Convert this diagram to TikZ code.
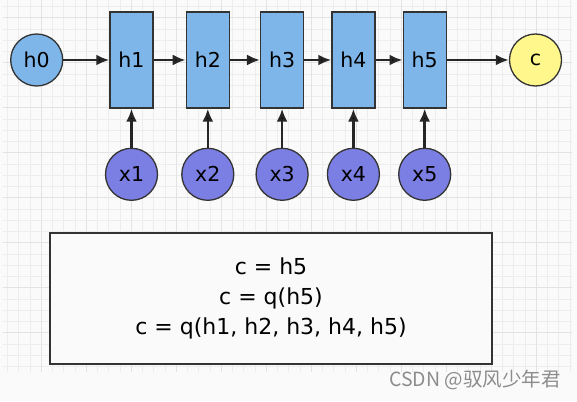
\documentclass[tikz,border=0pt]{standalone}
\usepackage{fontspec}
\setmainfont{DejaVu Sans}
\newfontfamily\cjk{Noto Sans CJK SC}
\usepackage{xcolor}
\usepackage{tikz}
\usetikzlibrary{positioning, arrows.meta, shapes.geometric}

\definecolor{cellblue}{RGB}{126,182,233}
\definecolor{inpurple}{RGB}{123,126,226}
\definecolor{outyellow}{RGB}{255,246,140}
\definecolor{edgegray}{RGB}{51,51,51}

\tikzset{
    cell/.style={draw=edgegray, line width=1.3pt, fill=cellblue, minimum width=43pt, minimum height=96pt, inner sep=0pt, font=\fontsize{20.5}{24}\selectfont},
    ball/.style={circle, draw=edgegray, line width=1.3pt, minimum size=52pt, inner sep=0pt, font=\fontsize{20.5}{24}\selectfont},
    flow/.style={-{Latex[length=13pt,width=11pt]}, line width=2.6pt, draw=black!85},
    minor/.style={draw=black!7, line width=0.8pt},
    major/.style={draw=black!11, line width=1pt}
}

\begin{document}
\begin{tikzpicture}[x=1pt, y=-1pt]

            % page and grid
            \fill[white!98!black] (0,0) rectangle (577,401);
            \useasboundingbox (0,0) rectangle (577,401);
            \foreach \i in {0,...,50}
                \draw[minor] ({7.55+11.25*\i},0) -- ({7.55+11.25*\i},371.7);
            \foreach \j in {0,...,32}
                \draw[minor] (3,{6.45+11.25*\j}) -- (572,{6.45+11.25*\j});
            \foreach \i in {0,...,12}
                \draw[major] ({41.3+45*\i},0) -- ({41.3+45*\i},371.7);
            \foreach \j in {0,...,7}
                \draw[major] (3,{17.7+45*\j}) -- (572,{17.7+45*\j});

            \node[cell] (h1) at (131.5,60) {h1};
            \node[cell] (h2) [right=32pt of h1] {h2};
            \node[cell] (h3) [right=30pt of h2] {h3};
            \node[cell] (h4) [right=27pt of h3] {h4};
            \node[cell] (h5) [right=27pt of h4] {h5};

            \node[ball] (h0) [fill=cellblue, left=46pt of h1] {h0};
            \node[ball] (c) [fill=outyellow, right=62pt of h5] {c};

            \node[ball] (x1) [fill=inpurple, below=39pt of h1] {x1};
            \node[ball] (x2) [fill=inpurple, below=39pt of h2] {x2};
            \node[ball] (x3) [fill=inpurple, below=39pt of h3] {x3};
            \node[ball] (x4) [fill=inpurple, below=39pt of h4] {x4};
            \node[ball] (x5) [fill=inpurple, below=39pt of h5] {x5};

            \path[flow]
            (h0) edge (h1)
            (h1) edge (h2)
            (h2) edge (h3)
            (h3) edge (h4)
            (h4) edge (h5)
            (h5) edge (c)

            (x1) edge (h1)
            (x2) edge (h2)
            (x3) edge (h3)
            (x4) edge (h4)
            (x5) edge (h5);

            % summary box
            \node[draw=edgegray, line width=1.3pt, fill=white!98!black, minimum width=442pt, minimum height=131pt, align=center, font=\fontsize{22}{30}\selectfont] (sum) at (271,298.5)
                {c = h5\\ c = q(h5)\\ c = q(h1, h2, h3, h4, h5)};

            \node[text=black!45, anchor=east, inner sep=0pt, font=\cjk\fontsize{19.5}{22}\selectfont] (mark) at (561,380) {CSDN @驭风少年君};

\end{tikzpicture}
\end{document}
